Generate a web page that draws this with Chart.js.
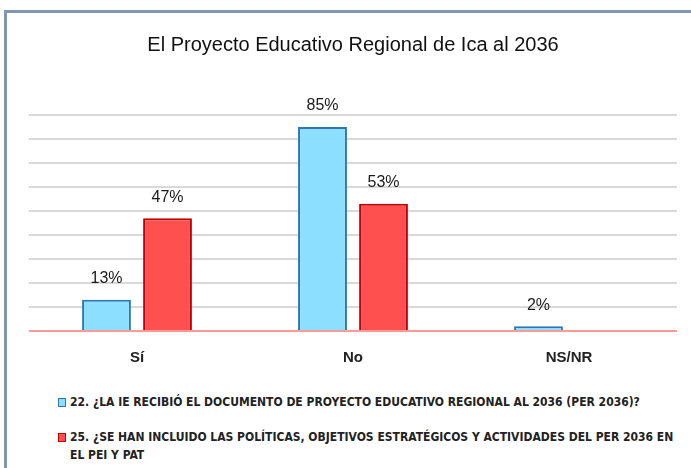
<!DOCTYPE html>
<html>
<head>
<meta charset="utf-8">
<script src="https://cdn.jsdelivr.net/npm/chart.js@4"></script>
<style>
  body { margin: 0; background: #fff; }
  #wrap { position: relative; width: 691px; height: 468px; overflow: hidden; }
  #frame { position: absolute; left: 4px; top: 10px; width: 700px; height: 470px;
           border-left: 3px solid #8096b3; border-top: 3px solid #8096b3; }
  #box { position: absolute; left: 0; top: 0; width: 691px; height: 377px; }
  #legend { position: absolute; left: 58px; top: 393px; width: 625px;
            font-family: 'Liberation Sans Narrow', 'DejaVu Sans Condensed', sans-serif;
            font-size: 12px; font-weight: bold; color: #222; }
  .item { position: relative; padding-left: 12px; line-height: 18px; margin-bottom: 17px; }
  .sw { position: absolute; left: 0; top: 5px; width: 6px; height: 7px; border: 1px solid; }
</style>
</head>
<body>
<div id="wrap">
  <div id="frame"></div>
  <div id="box"><canvas id="chart1"></canvas></div>
  <div id="legend"></div>
</div>
<script>
// datos
const categorias = ["Sí", "No", "NS/NR"];
const p22 = [13, 85, 2];
const p25 = [47, 53, 0];
const nombres = [
  "22. ¿LA IE RECIBIÓ EL DOCUMENTO DE PROYECTO EDUCATIVO REGIONAL AL 2036 (PER 2036)?",
  "25. ¿SE HAN INCLUIDO LAS POLÍTICAS, OBJETIVOS ESTRATÉGICOS Y ACTIVIDADES DEL PER 2036 EN EL PEI Y PAT"
];
const rellenos = ["#8ddfff", "#ff5050"];
const bordes = ["#2e75b6", "#c00000"];

// etiquetas encima de las barras
const etiquetas = {
  id: 'etiquetas',
  afterDatasetsDraw(chart) {
    const ctx = chart.ctx;
    ctx.save();
    ctx.font = '16px "Liberation Sans", sans-serif';
    ctx.fillStyle = '#1a1a1a';
    ctx.textAlign = 'center';
    ctx.textBaseline = 'bottom';
    chart.data.datasets.forEach((ds, i) => {
      chart.getDatasetMeta(i).data.forEach((bar, j) => {
        if (ds.data[j] > 0) ctx.fillText(ds.data[j] + '%', bar.x, bar.y - 13);
      });
    });
    ctx.restore();
  }
};

new Chart(document.getElementById("chart1"), {
  type: 'bar',
  data: {
    labels: categorias,
    datasets: [
      { label: nombres[0], data: p22, backgroundColor: rellenos[0], borderColor: bordes[0], borderWidth: 2 },
      { label: nombres[1], data: p25, backgroundColor: rellenos[1], borderColor: bordes[1], borderWidth: 2 }
    ]
  },
  options: {
    responsive: true,
    maintainAspectRatio: false,
    animation: false,
    categoryPercentage: 0.565,
    barPercentage: 0.8,
    layout: { padding: { left: 29, right: 14, bottom: 0 } },
    plugins: {
      legend: { display: false },
      tooltip: { enabled: false },
      title: {
        display: true,
        text: 'El Proyecto Educativo Regional de Ica al 2036',
        color: '#111',
        font: { family: 'Liberation Sans', size: 20, weight: 'normal' },
        padding: { top: 33, bottom: 58 }
      }
    },
    scales: {
      x: {
        grid: { display: false },
        border: { display: false },
        ticks: { color: '#222', padding: 10, font: { family: 'Liberation Sans', size: 15, weight: 'bold' } }
      },
      y: {
        min: 0, max: 90,
        ticks: { display: false, stepSize: 10 },
        border: { display: false },
        grid: {
          drawTicks: false,
          lineWidth: 2,
          color: c => c.tick.value === 0 ? '#ff9a9a' : '#d9d9d9'
        }
      }
    }
  },
  plugins: [etiquetas]
});

// leyenda
const ley = document.getElementById('legend');
nombres.forEach((n, i) => {
  const d = document.createElement('div');
  d.className = 'item';
  d.innerHTML = '<span class="sw" style="background:' + rellenos[i] + ';border-color:' + bordes[i] + '"></span>' + n;
  ley.appendChild(d);
});
</script>
</body>
</html>
